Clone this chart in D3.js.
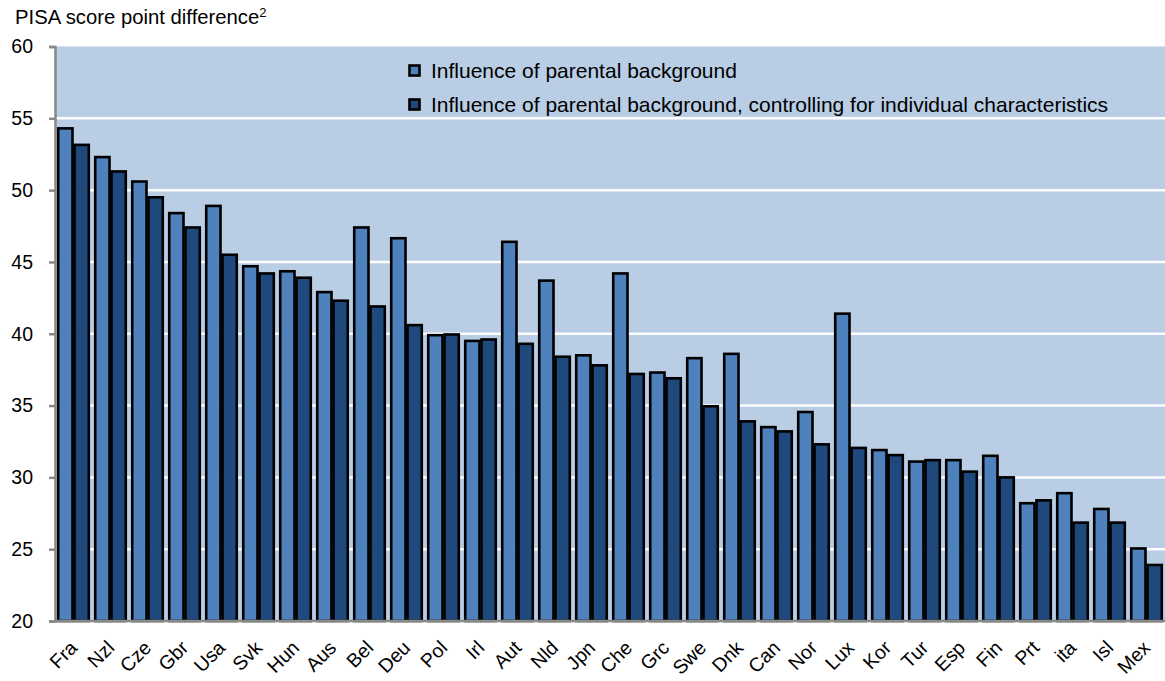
<!DOCTYPE html>
<html>
<head>
<meta charset="UTF-8">
<script src="https://cdn.jsdelivr.net/npm/d3@7/dist/d3.min.js"></script>
<style>
body{
    margin:0;
    font-family: Arial, "Liberation Sans", Helvetica, sans-serif;
    background-color:#fff;
}
</style>
</head>
<body>
<script>

var countries = ["Fra","Nzl","Cze","Gbr","Usa","Svk","Hun","Aus","Bel","Deu","Pol","Irl","Aut","Nld","Jpn","Che","Grc","Swe","Dnk","Can","Nor","Lux","Kor","Tur","Esp","Fin","Prt","ita","Isl","Mex"];
var parental = [54.3,52.3,50.6,48.4,48.9,44.7,44.35,42.9,47.4,46.65,39.9,39.5,46.4,43.7,38.5,44.2,37.3,38.3,38.6,33.5,34.55,41.4,31.9,31.1,31.2,31.5,28.2,28.9,27.8,25.05];
var controlled = [53.15,51.3,49.5,47.4,45.5,44.2,43.9,42.3,41.9,40.6,39.95,39.6,39.3,38.4,37.8,37.2,36.9,34.95,33.9,33.2,32.3,32.05,31.55,31.2,30.4,30.0,28.4,26.85,26.85,23.9];
var seriesNames = ["Influence of parental background","Influence of parental background, controlling for individual characteristics"];
var yTicks = [20,25,30,35,40,45,50,55,60];

var width = 1165, height = 681;
var margin = {top: 46.5, right: 0, bottom: 60, left: 55};
var colors = ["#4f81bd","#1f497d"];

var data = countries.map(function(c,i){ return {c:c, v:[parental[i], controlled[i]]}; });

var x0 = d3.scaleBand().domain(countries)
    .range([margin.left, width - margin.right])
    .paddingInner(0.12).paddingOuter(0.06);
var x1 = d3.scaleBand().domain([0,1]).range([0, x0.bandwidth()]);
var y = d3.scaleLinear().domain([20,60]).range([621, margin.top]);

var svg = d3.select("body").append("svg")
    .attr("width",width)
    .attr("height",height);

// plot background
svg.append("rect")
    .attr("x", margin.left)
    .attr("y", y(60))
    .attr("width", width - margin.left - margin.right)
    .attr("height", y(20) - y(60))
    .attr("fill","#b9cde5");

// gridlines
svg.selectAll(".grid")
    .data(yTicks.filter(function(d){ return d>20 && d<60; }))
    .enter().append("line")
    .attr("x1", margin.left).attr("x2", width)
    .attr("y1", function(d){ return y(d); })
    .attr("y2", function(d){ return y(d); })
    .attr("stroke","#fff")
    .attr("stroke-width",2.5);

// bars
var groups = svg.selectAll(".grp")
    .data(data)
    .enter().append("g")
    .attr("transform", function(d){ return "translate(" + x0(d.c) + ",0)"; });

groups.selectAll("rect")
    .data(function(d){ return d.v; })
    .enter().append("rect")
    .attr("x", function(d,i){ return x1(i) + 1; })
    .attr("width", x1.bandwidth() - 2)
    .attr("y", function(d){ return y(d); })
    .attr("height", function(d){ return y(20) - y(d); })
    .attr("fill", function(d,i){ return colors[i]; })
    .attr("stroke","#000")
    .attr("stroke-width",2.6);

// y axis
var yAxis = d3.axisLeft(y).tickValues(yTicks).tickSize(6).tickPadding(16);
var gY = svg.append("g")
    .attr("transform","translate(" + margin.left + ",0)")
    .call(yAxis);
gY.select(".domain").attr("stroke","#888").attr("stroke-width",2.5);
gY.selectAll(".tick line").attr("stroke","#888").attr("stroke-width",2.5);
gY.selectAll(".tick text")
    .attr("font-size",19.5)
    .attr("font-family","Arial, 'Liberation Sans', sans-serif")
    .attr("fill","#000");

// x axis line
svg.append("line")
    .attr("x1", margin.left).attr("x2", width)
    .attr("y1", y(20)).attr("y2", y(20))
    .attr("stroke","#888").attr("stroke-width",2.5);

// x labels
svg.selectAll(".xlab")
    .data(countries)
    .enter().append("text")
    .attr("transform", function(d){ return "translate(" + (x0(d) + x0.bandwidth()/2 + 5) + ",649) rotate(-45)"; })
    .attr("text-anchor","end")
    .attr("font-size",19.5)
    .attr("fill","#000")
    .text(function(d){ return d; });

// title
var title = svg.append("text")
    .attr("x",15)
    .attr("y",24)
    .attr("font-size",20.3)
    .attr("fill","#000")
    .text("PISA score point difference");
title.append("tspan")
    .attr("font-size",13)
    .attr("dy",-7)
    .text("2");

// legend
var legend = svg.selectAll(".leg")
    .data(seriesNames)
    .enter().append("g")
    .attr("transform", function(d,i){ return "translate(409.5," + (70.5 + i*34) + ")"; });
legend.append("rect")
    .attr("x",0).attr("y",-5)
    .attr("width",10).attr("height",10)
    .attr("fill", function(d,i){ return colors[i]; })
    .attr("stroke","#000")
    .attr("stroke-width",2.6);
legend.append("text")
    .attr("x",21.5)
    .attr("y",0)
    .attr("dy","0.35em")
    .attr("font-size",21)
    .attr("fill","#000")
    .text(function(d){ return d; });

</script>
</body>
</html>
